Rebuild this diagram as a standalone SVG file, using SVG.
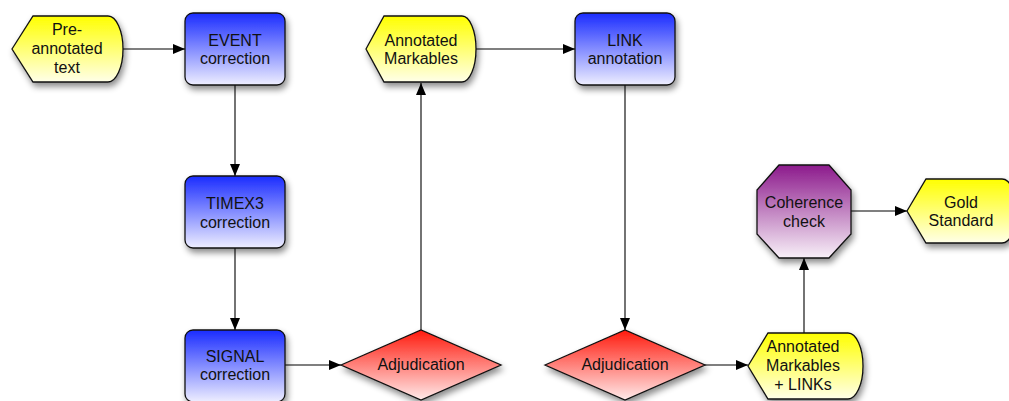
<svg xmlns="http://www.w3.org/2000/svg" width="1009" height="401" viewBox="0 0 1009 401">
<defs>
<linearGradient id="gBlue" x1="0" y1="0" x2="0" y2="1"><stop offset="0" stop-color="#1a2cff"/><stop offset="1" stop-color="#eeeeff"/></linearGradient>
<linearGradient id="gYellow" x1="0" y1="0" x2="0" y2="1"><stop offset="0" stop-color="#ffff00"/><stop offset="1" stop-color="#ffffe8"/></linearGradient>
<linearGradient id="gRed" x1="0" y1="0" x2="0" y2="1"><stop offset="0" stop-color="#ff1a0d"/><stop offset="1" stop-color="#ffeaea"/></linearGradient>
<linearGradient id="gPurple" x1="0" y1="0" x2="0" y2="1"><stop offset="0" stop-color="#8c1a8c"/><stop offset="1" stop-color="#f8f0f8"/></linearGradient>
<filter id="shadow" x="-20%" y="-20%" width="150%" height="160%"><feDropShadow dx="2" dy="4" stdDeviation="3" flood-color="#000" flood-opacity="0.45"/></filter>
<marker id="arrow" markerWidth="13" markerHeight="10" refX="12" refY="5" orient="auto" markerUnits="userSpaceOnUse"><path d="M0,0 L12,5 L0,10 Z" fill="#000"/></marker>
</defs>
<style>
.shape{stroke:#111;stroke-width:1.3;filter:url(#shadow)}
.blue{fill:url(#gBlue)}
.yellow{fill:url(#gYellow)}
.red{fill:url(#gRed)}
.purple{fill:url(#gPurple)}
text{font-family:"Liberation Sans",Arial,Helvetica,sans-serif;font-size:16px;fill:#111;text-anchor:middle}
.conn line{stroke:#000;stroke-width:1.1;marker-end:url(#arrow)}
</style>
<g id="connectors" class="conn">
<line x1="122" y1="49" x2="185" y2="49"/>
<line x1="235" y1="85" x2="235" y2="176"/>
<line x1="235" y1="248" x2="235" y2="330"/>
<line x1="285" y1="365" x2="341" y2="365"/>
<line x1="421" y1="330" x2="421" y2="83"/>
<line x1="476" y1="49" x2="575" y2="49"/>
<line x1="625" y1="85" x2="625" y2="330"/>
<line x1="705" y1="365" x2="748" y2="365"/>
<line x1="804" y1="333" x2="804" y2="258"/>
<line x1="851" y1="211" x2="907" y2="211"/>
</g>
<g id="pre-annotated">
<path class="shape yellow" d="M12,49 L33,16 L108,16 A15,33 0 0 1 108,82 L33,82 Z"/>
<text x="67" y="35">Pre-</text><text x="67" y="53.5">annotated</text><text x="67" y="72.5">text</text>
</g>
<g id="event">
<rect class="shape blue" x="185" y="13" width="100" height="72" rx="8"/>
<text x="235" y="45.5">EVENT</text><text x="235" y="64">correction</text>
</g>
<g id="timex3">
<rect class="shape blue" x="185" y="176" width="100" height="72" rx="8"/>
<text x="235" y="209">TIMEX3</text><text x="235" y="227.5">correction</text>
</g>
<g id="signal">
<rect class="shape blue" x="185" y="330" width="100" height="72" rx="8"/>
<text x="235" y="361.5">SIGNAL</text><text x="235" y="380">correction</text>
</g>
<g id="adjudication1">
<path class="shape red" d="M341,365 L421,330 L501,365 L421,400 Z"/>
<text x="421" y="370">Adjudication</text>
</g>
<g id="annotated-markables">
<path class="shape yellow" d="M366,49 L384,16 L462,16 A14,33 0 0 1 462,82 L384,82 Z"/>
<text x="421" y="45.5">Annotated</text><text x="421" y="64">Markables</text>
</g>
<g id="link">
<rect class="shape blue" x="575" y="13" width="100" height="72" rx="8"/>
<text x="625" y="45.5">LINK</text><text x="625" y="64">annotation</text>
</g>
<g id="adjudication2">
<path class="shape red" d="M545,365 L625,330 L705,365 L625,400 Z"/>
<text x="625" y="370">Adjudication</text>
</g>
<g id="annotated-markables-links">
<path class="shape yellow" d="M748,366 L768,333 L848,333 A15,33 0 0 1 848,399 L768,399 Z"/>
<text x="803" y="352">Annotated</text><text x="803" y="371">Markables</text><text x="803" y="389.5">+ LINKs</text>
</g>
<g id="coherence">
<path class="shape purple" d="M779,165 L829,165 L851,190 L851,234 L829,258 L779,258 L757,234 L757,190 Z"/>
<text x="804" y="208">Coherence</text><text x="804" y="226.5">check</text>
</g>
<g id="gold">
<path class="shape yellow" d="M907,211 L926,179 L1002,179 A15,32 0 0 1 1002,243 L926,243 Z"/>
<text x="961" y="207.5">Gold</text><text x="961" y="226">Standard</text>
</g>
</svg>
